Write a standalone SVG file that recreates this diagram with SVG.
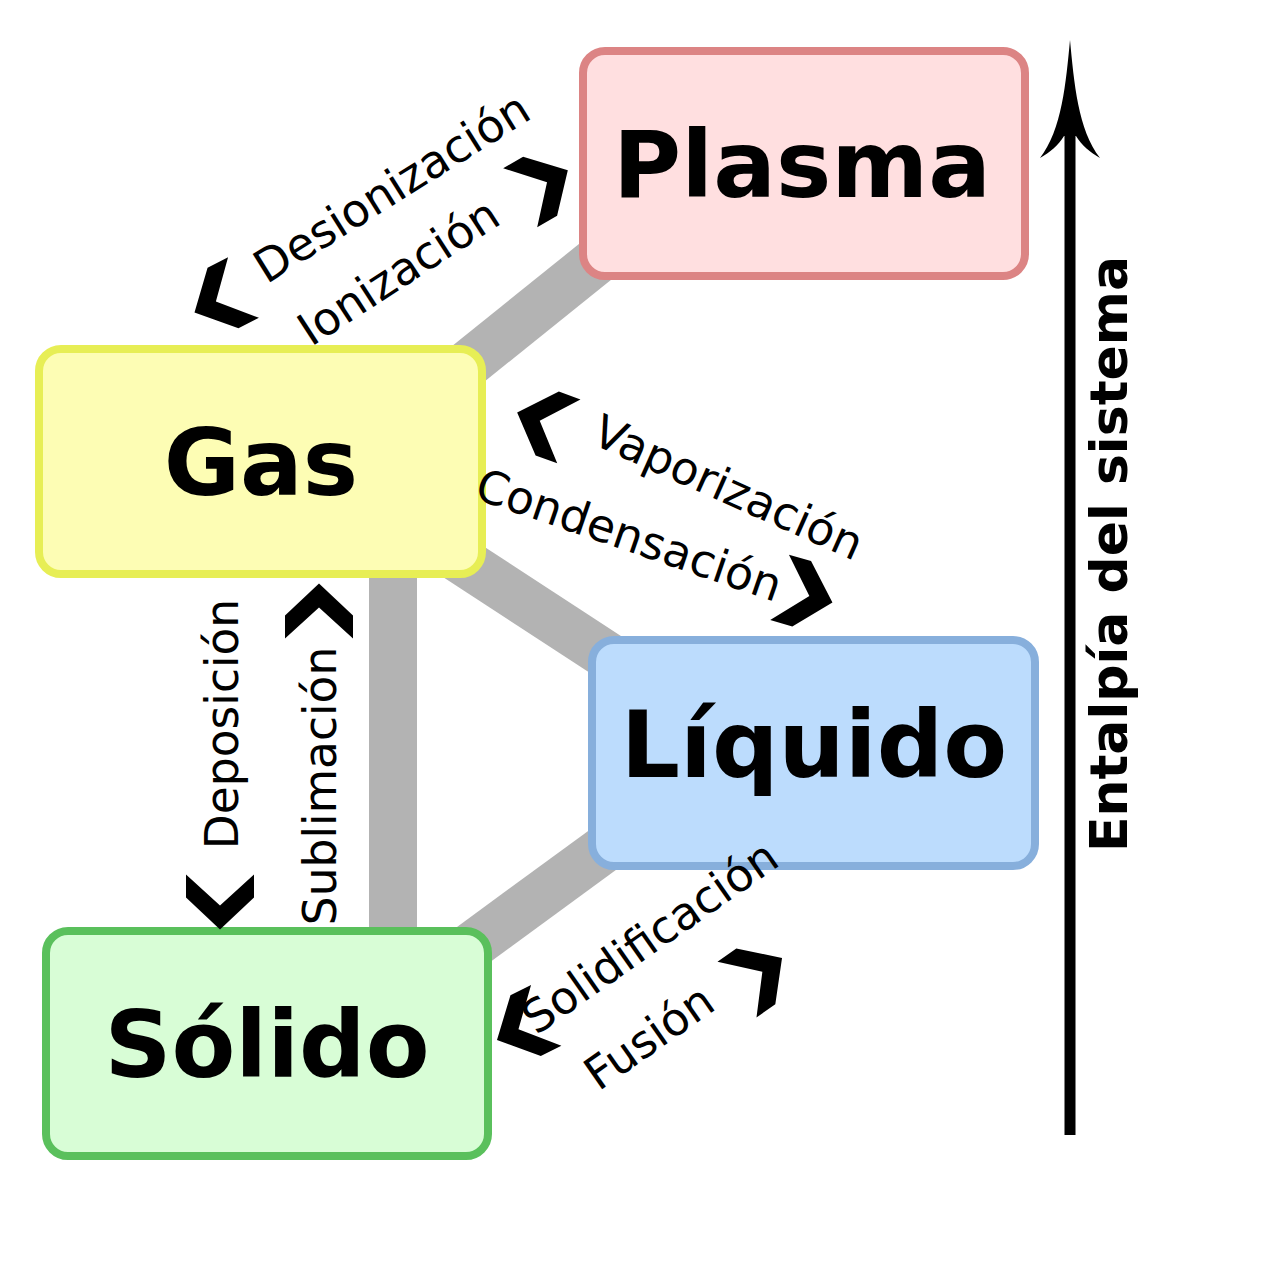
<svg xmlns="http://www.w3.org/2000/svg" width="1280" height="1269" viewBox="0 0 1280 1269">
<style>
.conn{stroke:#b3b3b3;stroke-width:48;fill:none}
.box{stroke-width:8}
.title{font-family:"DejaVu Sans",sans-serif;font-weight:bold;font-size:93px;text-anchor:middle;fill:#000}
.lbl{font-family:"DejaVu Sans",sans-serif;font-size:45.5px;text-anchor:middle;fill:#000}
.axis{font-family:"DejaVu Sans",sans-serif;font-weight:bold;font-size:52px;text-anchor:middle;fill:#000}
</style>
<defs>
<path id="chev" d="M0,-27.5 L34,4.5 L34,27.5 L0,-3.5 L-34,27.5 L-34,4.5 Z" fill="#000"/>
</defs>
<rect width="1280" height="1269" fill="#fff"/>
<g id="connectors">
<line class="conn" x1="437" y1="389" x2="616" y2="245"/>
<line class="conn" x1="430" y1="540" x2="640" y2="677"/>
<line class="conn" x1="393" y1="560" x2="393" y2="945"/>
<line class="conn" x1="462" y1="953" x2="615" y2="841"/>
</g>
<g id="plasma">
<rect class="box" x="583" y="51" width="442" height="225" rx="22" fill="#ffdfe0" stroke="#dc8484"/>
<text class="title" x="802" y="197">Plasma</text>
</g>
<g id="gas">
<rect class="box" x="39" y="349" width="443" height="225" rx="22" fill="#fdfdb4" stroke="#e7ee55"/>
<text class="title" x="261" y="495">Gas</text>
</g>
<g id="liquido">
<rect class="box" x="592" y="640" width="443" height="226" rx="22" fill="#bcdcfd" stroke="#87afdc"/>
<text class="title" x="814" y="777">Líquido</text>
</g>
<g id="solido">
<rect class="box" x="46" y="931" width="442" height="225" rx="22" fill="#d8fdd6" stroke="#5ac05c"/>
<text class="title" x="267" y="1077">Sólido</text>
</g>
<g id="labels">
<text class="lbl" transform="translate(400,201) rotate(-32)">Desionización</text>
<text class="lbl" transform="translate(407,285) rotate(-33)">Ionización</text>
<text class="lbl" transform="translate(722,502) rotate(24)">Vaporización</text>
<text class="lbl" transform="translate(624,550) rotate(19)">Condensación</text>
<text class="lbl" transform="translate(238,724) rotate(-90)">Deposición</text>
<text class="lbl" transform="translate(336,786) rotate(-90)">Sublimación</text>
<text class="lbl" transform="translate(659,950) rotate(-35)">Solidificación</text>
<text class="lbl" transform="translate(658,1050) rotate(-35)">Fusión</text>
</g>
<g id="chevrons">
<use href="#chev" transform="translate(219,300) rotate(243)"/>
<use href="#chev" transform="translate(544,184) rotate(60)"/>
<use href="#chev" transform="translate(543,422) rotate(-70)"/>
<use href="#chev" transform="translate(806,595) rotate(106)"/>
<use href="#chev" transform="translate(220,902) rotate(180)"/>
<use href="#chev" transform="translate(319,611)"/>
<use href="#chev" transform="translate(521.6,1027.7) rotate(243.5)"/>
<use href="#chev" transform="translate(759.5,973.8) rotate(55)"/>
</g>
<g id="enthalpy-axis">
<line x1="1070" y1="1135" x2="1070" y2="130" stroke="#000" stroke-width="11"/>
<path d="M1070,40 C1074,82 1078,130 1100,158 C1090,152 1082,146 1076,136 L1064,136 C1058,146 1050,152 1040,158 C1062,130 1066,82 1070,40 Z" fill="#000"/>
<text class="axis" transform="translate(1127,554) rotate(-90)">Entalpía del sistema</text>
</g>
</svg>
